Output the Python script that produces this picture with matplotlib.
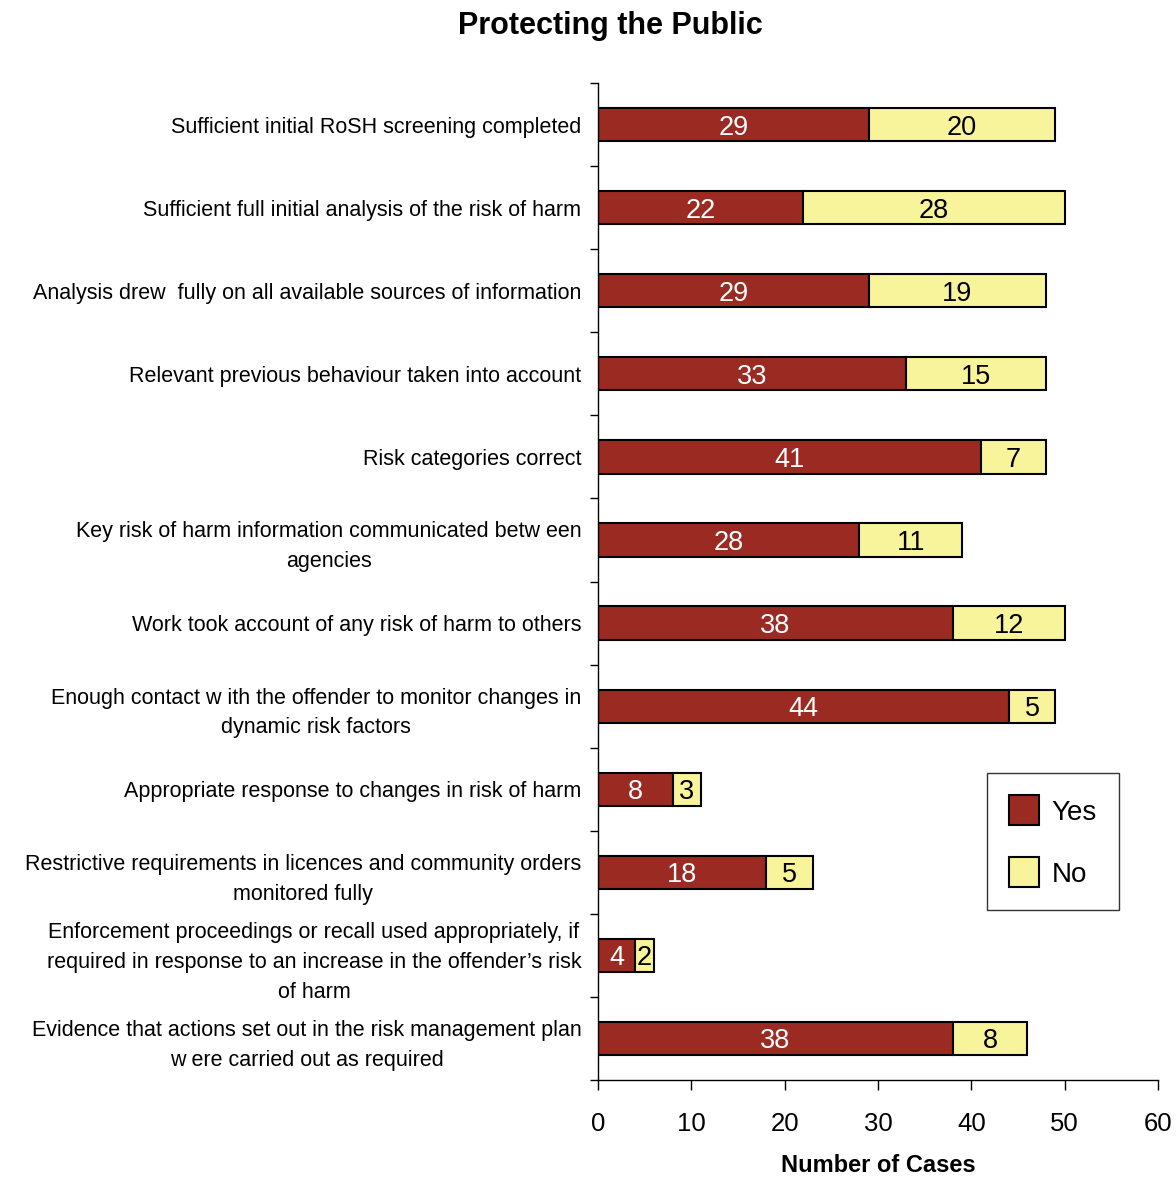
import numpy as np
import matplotlib.pyplot as plt
from matplotlib.ticker import FixedLocator

plt.rcParams['font.family'] = ['Liberation Sans', 'DejaVu Sans']

categories = [
    'Sufficient initial RoSH screening completed',
    'Sufficient full initial analysis of the risk of harm',
    'Analysis drew  fully on all available sources of information',
    'Relevant previous behaviour taken into account',
    'Risk categories correct',
    'Key risk of harm information communicated betw een\nagencies',
    'Work took account of any risk of harm to others',
    'Enough contact w ith the offender to monitor changes in\ndynamic risk factors',
    'Appropriate response to changes in risk of harm',
    'Restrictive requirements in licences and community orders\nmonitored fully',
    'Enforcement proceedings or recall used appropriately, if\nrequired in response to an increase in the offender\u2019s risk\nof harm',
    'Evidence that actions set out in the risk management plan\nw ere carried out as required',
]
yes = [29, 22, 29, 33, 41, 28, 38, 44, 8, 18, 4, 38]
no = [20, 28, 19, 15, 7, 11, 12, 5, 3, 5, 2, 8]
xticks = [0, 10, 20, 30, 40, 50, 60]

yes_color = '#9B2B22'
no_color = '#F8F49C'

fig = plt.figure(figsize=(11.76, 11.78), dpi=100)
ax = fig.add_axes([0.5085, 0.0832, 0.4762, 0.8463])

y = np.arange(len(categories))
h = 0.4
b1 = ax.barh(y, yes, height=h, color=yes_color, edgecolor='black', linewidth=1.5, label='Yes')
b2 = ax.barh(y, no, left=yes, height=h, color=no_color, edgecolor='black', linewidth=1.5, label='No')

for i in range(len(categories)):
    ax.text(yes[i] / 2, y[i], str(yes[i]), ha='center', va='center_baseline',
            color='white', fontsize=19.5)
    ax.text(yes[i] + no[i] / 2, y[i], str(no[i]), ha='center', va='center_baseline',
            color='black', fontsize=19.5)

ax.set_xlim(0, 60)
ax.set_ylim(len(categories) - 0.5, -0.5)
ax.set_xticks(xticks)
ax.tick_params(axis='x', direction='out', length=7, width=1, pad=16, labelsize=18.5)

ax.set_yticks(y)
ax.set_yticklabels(categories, multialignment='center', fontsize=15.5, linespacing=1.55)
ax.yaxis.set_minor_locator(FixedLocator(np.arange(-0.5, len(categories), 1.0)))
ax.tick_params(axis='y', which='major', length=0, pad=12)
ax.tick_params(axis='y', which='minor', direction='out', length=6, width=1)

for s in ['top', 'right']:
    ax.spines[s].set_visible(False)
for s in ['left', 'bottom']:
    ax.spines[s].set_linewidth(1)

ax.set_xlabel('Number of Cases', fontsize=17, fontweight='bold', labelpad=13)
fig.text(610 / 1176, 1 - 26 / 1178, 'Protecting the Public', ha='center', va='center',
         fontsize=22, fontweight='bold')

leg = fig.legend(handles=[b1, b2], labels=['Yes', 'No'], loc='upper left',
                 bbox_to_anchor=(987 / 1176, 1 - 773 / 1178), fontsize=20,
                 frameon=True, fancybox=False, edgecolor='black',
                 handlelength=1.08, handleheight=1.28, labelspacing=1.15,
                 borderpad=0.8, handletextpad=0.45, borderaxespad=0)
leg.get_frame().set_linewidth(1)

fig.savefig('out.png', dpi=100)
